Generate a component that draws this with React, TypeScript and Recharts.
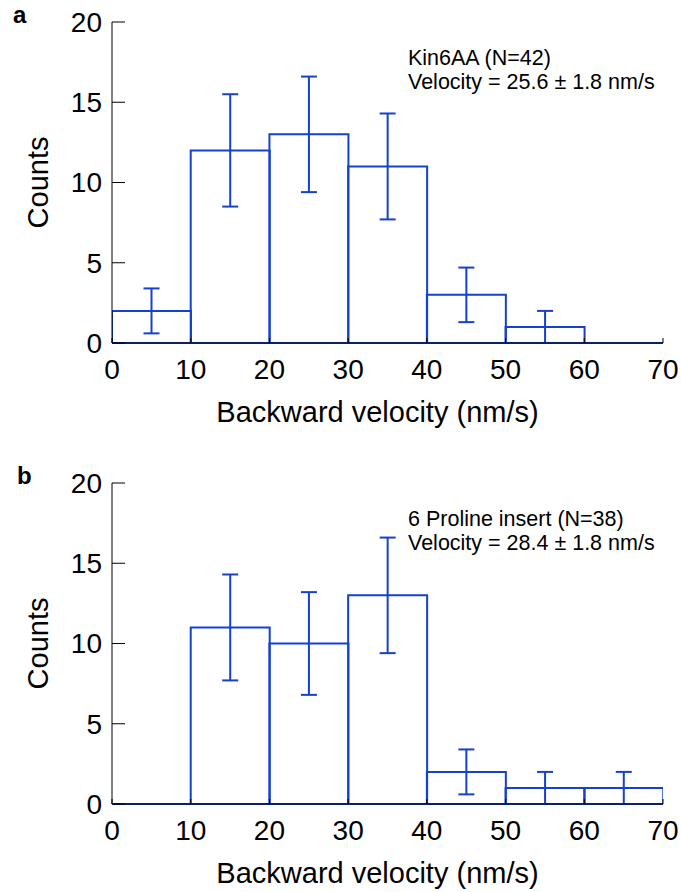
import React from 'react'
import {
  Bar,
  ComposedChart,
  ErrorBar,
  ReferenceLine,
  XAxis,
  YAxis,
} from 'recharts'

const binMids = [5, 15, 25, 35, 45, 55, 65]
const countsA = [2, 12, 13, 11, 3, 1, 0]
const errorsA = [1.4, 3.5, 3.6, 3.3, 1.7, 1.0, 0]
const countsB = [0, 11, 10, 13, 2, 1, 1]
const errorsB = [0, 3.3, 3.2, 3.6, 1.4, 1.0, 1.0]
const xTicks = [0, 10, 20, 30, 40, 50, 60, 70]
const yTicks = [0, 5, 10, 15, 20]

const BLUE = '#1540d0'
const FONT = '"Liberation Sans", Arial, sans-serif'

type PanelProps = {
  top: number
  letter: string
  letterX: number
  counts: number[]
  errors: number[]
  note: string[]
}

const Panel = (props: PanelProps) => {
  const data = binMids.map((mid, i) => ({
    mid,
    count: props.counts[i],
    err: props.errors[i],
  }))

  return (
    <div style={{ position: 'absolute', left: 0, top: props.top, width: 681, height: 440 }}>
      <ComposedChart
        width={681}
        height={440}
        data={data}
        margin={{ top: 22, right: 18, bottom: 0, left: 0 }}
        barCategoryGap={0}
        barGap={0}
        style={{ fontFamily: FONT }}
      >
        <XAxis
          dataKey="mid"
          type="number"
          domain={[0, 70]}
          ticks={xTicks}
          allowDataOverflow
          height={97}
          stroke="#000"
          tickSize={-5}
          tickMargin={21}
          tick={{ fill: '#000', fontSize: 28 }}
          label={{
            value: 'Backward velocity (nm/s)',
            position: 'insideTop',
            offset: 58,
            dx: -10,
            fill: '#000',
            fontSize: 29,
          }}
        />
        <YAxis
          type="number"
          domain={[0, 20]}
          ticks={yTicks}
          width={112}
          stroke="#000"
          tickSize={-13}
          tickMargin={23}
          tick={{ fill: '#000', fontSize: 28 }}
          label={{
            value: 'Counts',
            angle: -90,
            position: 'center',
            dx: -18,
            fill: '#000',
            fontSize: 29,
          }}
        />
        <ReferenceLine y={0} stroke={BLUE} strokeWidth={2} />
        <Bar
          dataKey="count"
          fill="none"
          stroke={BLUE}
          strokeWidth={2}
          isAnimationActive={false}
        >
          <ErrorBar
            dataKey="err"
            direction="y"
            width={8}
            stroke={BLUE}
            strokeWidth={2}
            isAnimationActive={false}
          />
        </Bar>
      </ComposedChart>
      <svg
        width={681}
        height={440}
        style={{ position: 'absolute', left: 0, top: 0, pointerEvents: 'none' }}
      >
        <text x={props.letterX} y={23} fontFamily={FONT} fontWeight="bold" fontSize={24}>
          {props.letter}
        </text>
        <text x={408} y={65} fontFamily={FONT} fontSize={21.5}>
          {props.note[0]}
        </text>
        <text x={408} y={89} fontFamily={FONT} fontSize={21.5}>
          {props.note[1]}
        </text>
      </svg>
    </div>
  )
}

export default function App() {
  return (
    <div style={{ position: 'absolute', left: 0, top: 0, width: 681, height: 892, background: '#fff' }}>
      <Panel
        top={0}
        letter="a"
        letterX={13}
        counts={countsA}
        errors={errorsA}
        note={['Kin6AA (N=42)', 'Velocity = 25.6 ± 1.8 nm/s']}
      />
      <Panel
        top={461}
        letter="b"
        letterX={17}
        counts={countsB}
        errors={errorsB}
        note={['6 Proline insert (N=38)', 'Velocity = 28.4 ± 1.8 nm/s']}
      />
    </div>
  )
}
